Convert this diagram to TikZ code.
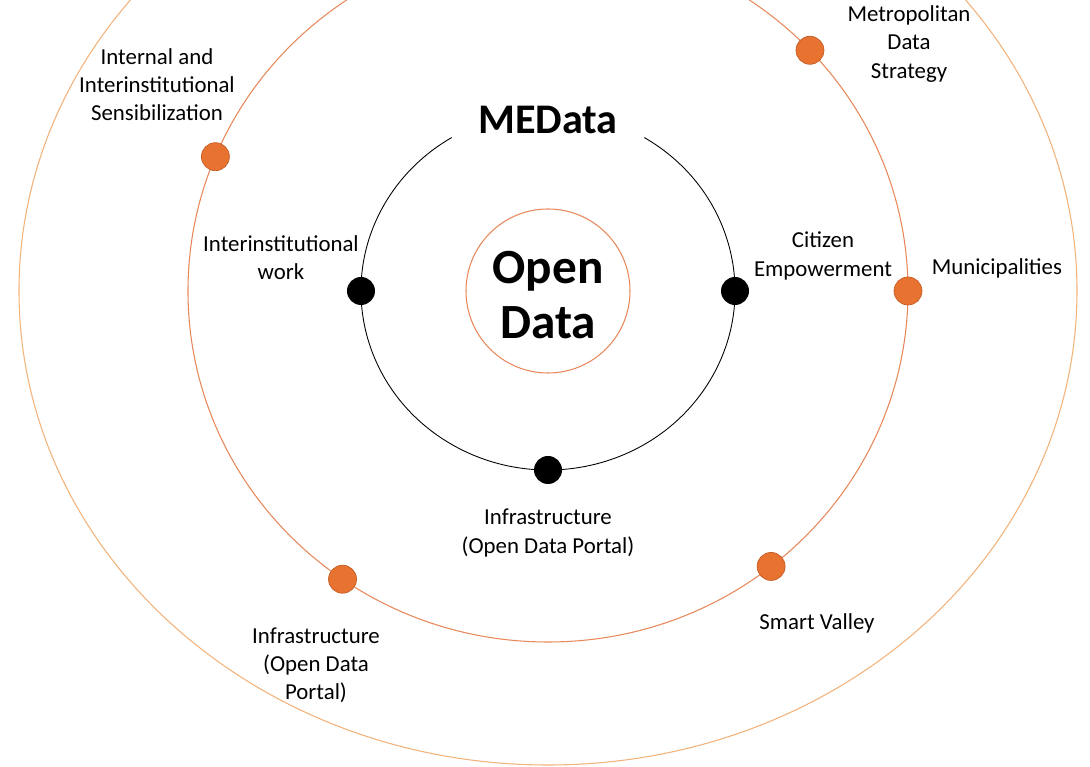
\documentclass[tikz,border=0pt]{standalone}
\usepackage{fontspec}
\setmainfont{Carlito}
\usepackage{tikz}
\definecolor{ringout}{HTML}{F2B27A}
\definecolor{ringmid}{HTML}{E8885A}
\definecolor{dotorange}{HTML}{E8722F}
\definecolor{dotedge}{HTML}{C45E28}

\begin{document}
\begin{tikzpicture}[
  odot/.style={circle, fill=dotorange, draw=dotedge, line width=0.4pt, minimum size=0.56cm, inner sep=0pt},
  bdot/.style={circle, fill=black, minimum size=0.56cm, inner sep=0pt},
  lbl/.style={align=center, font=\fontsize{13}{16}\selectfont}
]
\useasboundingbox (-10.96,-9.52) rectangle (10.84,5.82);

% Anillos
\draw[ringout, line width=0.6pt] (0,0) ellipse (10.58 and 9.48);
\draw[ringmid, line width=0.6pt] (0,0) ellipse (7.2 and 7.02);
\draw[black, line width=0.5pt] (59:3.74 and 3.58) arc (59:-239:3.74 and 3.58);
\draw[ringmid, line width=0.6pt] (0,0) circle (1.64);

% Centro
\node[font=\bfseries\fontsize{28}{31}\selectfont, align=center] (core) at (0,-0.08) {Open\\Data};
\node[font=\bfseries\fontsize{24}{28}\selectfont] (medata) at (0,3.42) {MEData};

% Puntos negros
\node[bdot] (bwest) at (180:3.74 and 3.58) {};
\node[bdot] (beast) at (0:3.74 and 3.58) {};
\node[bdot] (bsouth) at (270:3.74 and 3.58) {};

% Puntos naranjas
\node[odot] (ometro) at (43.3:7.2 and 7.02) {};
\node[odot] (ointernal) at (157.5:7.2 and 7.02) {};
\node[odot] (omuni) at (0:7.2 and 7.02) {};
\node[odot] (osmart) at (-51.7:7.2 and 7.02) {};
\node[odot] (oportal) at (-124.8:7.2 and 7.02) {};

% Etiquetas
\node[lbl] (lblinternal) at (-7.82,4.12) {Internal and\\Interinstitutional\\Sensibilization};
\node[lbl] (lblinter) at (-5.34,0.66) {Interinstitutional\\work};
\node[lbl] (lblmetro) at (7.22,4.94) {Metropolitan\\Data\\Strategy};
\node[lbl] (lblcitizen) at (5.5,0.7) {Citizen\\Empowerment};
\node[lbl] (lblmuni) at (8.98,0.46) {Municipalities};
\node[lbl] (lblinfra) at (0,-4.84) {Infrastructure\\(Open Data Portal)};
\node[lbl] (lblsmart) at (5.38,-6.64) {Smart Valley};
\node[lbl] (lblportal) at (-4.64,-7.48) {Infrastructure\\(Open Data\\Portal)};
\end{tikzpicture}
\end{document}
